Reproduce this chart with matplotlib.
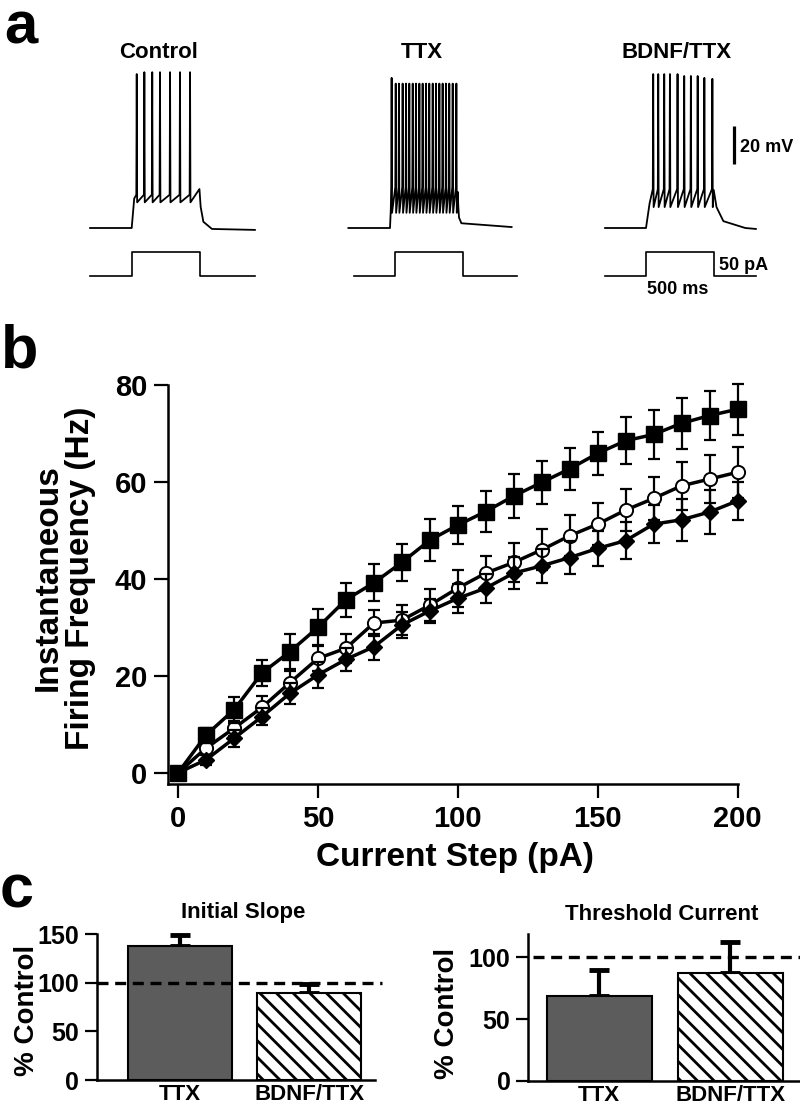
#!/usr/bin/env python3
"""Firing of cortical neurons after TTX / BDNF+TTX: traces, f-I curves and summary bars."""

import matplotlib
matplotlib.use("Agg")
import matplotlib.pyplot as plt

W, H = 800, 1111
DPI = 100

# ---- panel a: example recordings (time in ms from step onset, voltage in mV)
TRACE_NAMES = ["Control", "TTX", "BDNF/TTX"]
STEP_MS = 500
STEP_PA = 50
REST_MV = [-65, -65, -65]
END_MV = [-66, -64.5, -65.5]
AFTER_MV = [-65.5, -62.5, -65]
SPIKE_MS = [
    [37, 93, 151, 208, 282, 355, 429],
    [12, 42, 66, 93, 118, 142, 167, 191, 216, 240,
     265, 289, 314, 338, 363, 387, 412, 436, 461, 488],
    [53, 90, 134, 176, 232, 281, 330, 380, 429, 488],
]
PEAK_MV = [
    [16, 17, 17, 17, 17, 17, 17],
    [14, 11, 11, 11, 11, 11, 11, 11, 11, 11,
     11, 11, 11, 11, 11, 11, 11, 11, 11, 11],
    [16, 16, 16, 16, 16, 15, 15, 15, 14, 13.5],
]
TROUGH_MV = [-51.5, -57, -54]
THRESH_MV = [-47.5, -43.5, -44.5]
END_HUMP_MV = [-44.5, -46, -45]
DECAY_MS = [90, 25, 230]
V_START_MS = [-306, -306, -301]
V_END_MS = [906, 894, 808]
I_START_MS = [-306, -301, -301]
I_END_MS = [906, 895, 808]

# ---- panel b: instantaneous firing frequency vs current step
CURRENT_PA = [0, 10, 20, 30, 40, 50, 60, 70, 80, 90, 100,
              110, 120, 130, 140, 150, 160, 170, 180, 190, 200]
TTX_HZ = [0, 7.8, 13.0, 20.6, 25.0, 30.0, 35.7, 39.2, 43.4, 48.0, 51.1,
          53.9, 57.1, 59.9, 62.7, 65.9, 68.5, 69.8, 72.1, 73.7, 75.0]
TTX_SEM = [0, 1.5, 2.7, 2.7, 3.6, 3.7, 3.5, 3.8, 3.8, 4.4, 3.9,
           4.2, 4.5, 4.5, 4.4, 4.5, 4.8, 5.0, 5.2, 5.1, 5.3]
BDNF_HZ = [0, 5.1, 9.2, 13.5, 18.6, 23.6, 25.7, 30.9, 31.5, 34.6, 38.1,
           41.2, 43.4, 46.0, 48.9, 51.3, 54.2, 56.6, 59.2, 60.6, 62.0]
BDNF_SEM = [0, 1.0, 1.5, 2.4, 2.5, 2.5, 3.0, 2.7, 3.1, 3.3, 3.8,
            3.5, 4.0, 4.2, 4.2, 4.4, 4.4, 4.4, 4.9, 5.0, 5.3]
CTRL_HZ = [0, 2.7, 7.1, 11.6, 16.4, 20.2, 23.4, 26.0, 30.5, 33.4, 36.0,
           38.1, 41.2, 42.7, 44.4, 46.3, 47.9, 51.3, 52.2, 53.8, 56.1]
CTRL_SEM = [0, 1.0, 1.7, 1.7, 2.2, 2.6, 2.4, 2.7, 2.7, 2.5, 3.0,
            3.0, 3.3, 3.5, 3.4, 3.6, 3.8, 3.9, 4.3, 4.5, 3.9]

# ---- panel c: summary, % of control
GROUPS = ["TTX", "BDNF/TTX"]
SLOPE_PCT = [138, 89.5]
SLOPE_SEM = [11, 9]
THRESH_PCT = [69, 87.5]
THRESH_SEM = [20.5, 25]

BAR_GRAY = "#5c5c5c"

plt.rcParams.update({
    "font.family": ["Liberation Sans", "DejaVu Sans"],
    "font.weight": "bold",
    "hatch.linewidth": 2.0,
    "hatch.color": "black",
})

fig = plt.figure(figsize=(W / DPI, H / DPI), dpi=DPI, facecolor="white")


def _px_axes(x0, y0, x1, y1):
    return fig.add_axes([x0 / W, 1 - y1 / H, (x1 - x0) / W, (y1 - y0) / H])


def _label(x, y, s, size, **kw):
    fig.text(x / W, 1 - y / H, s, fontsize=size, fontweight="bold", **kw)


# ---------------- panel a
MS_PER_PX = 500 / 68
MV_PER_PX = 20 / 38
PA_PER_PX = 50 / 24.5
T_LIM = (-330, 930)
V_LIM = (-72, 24)
I_LIM = (-10, 60)
V_ORIGIN_X = [131.7, 390, 646]
I_ORIGIN_X = [131.7, 395, 646]
TITLE_X = [159, 421.7, 676.7]


def _trace_axes(origin_x, ref_y, ref_val, per_px, ylim):
    x0 = origin_x + T_LIM[0] / MS_PER_PX
    x1 = origin_x + T_LIM[1] / MS_PER_PX
    y0 = ref_y - (ylim[1] - ref_val) / per_px
    y1 = ref_y + (ref_val - ylim[0]) / per_px
    ax = _px_axes(x0, y0, x1, y1)
    ax.set_xlim(*T_LIM)
    ax.set_ylim(*ylim)
    ax.axis("off")
    return ax


def _voltage_trace(i):
    rest = REST_MV[i]
    trough, thresh = TROUGH_MV[i], THRESH_MV[i]
    t = [V_START_MS[i], 0.0, SPIKE_MS[i][0] * 0.5]
    v = [rest, rest, trough + 2]
    for ts, pk in zip(SPIKE_MS[i], PEAK_MV[i]):
        t += [ts - 3, ts, ts + 3]
        v += [thresh, pk, trough]
    hump = END_HUMP_MV[i]
    d = DECAY_MS[i]
    after = AFTER_MV[i]
    t += [STEP_MS - 2, STEP_MS + 0.08 * d, STEP_MS + 0.3 * d, STEP_MS + d, V_END_MS[i]]
    v += [hump, after + 0.55 * (hump - after), after + 0.18 * (hump - after),
          after, END_MV[i]]
    return t, v


for i, name in enumerate(TRACE_NAMES):
    axv = _trace_axes(V_ORIGIN_X[i], 228, REST_MV[0], MV_PER_PX, V_LIM)
    t, v = _voltage_trace(i)
    axv.plot(t, v, color="black", lw=1.3, clip_on=False)

    axi = _trace_axes(I_ORIGIN_X[i], 276, 0, PA_PER_PX, I_LIM)
    axi.plot([I_START_MS[i], 0, 0, STEP_MS, STEP_MS, I_END_MS[i]],
             [0, 0, STEP_PA, STEP_PA, 0, 0], color="black", lw=1.2, clip_on=False)

    _label(TITLE_X[i], 58, name, 16, ha="center", va="baseline")

    if i == 2:
        # 20 mV scale bar
        axv.plot([647, 647], [-31.5, -11.5], color="black", lw=2.3,
                 solid_capstyle="butt", clip_on=False)

_label(740, 148, "20 mV", 13, ha="left", va="center")
_label(719, 265, "50 pA", 13, ha="left", va="center")
_label(678, 289, "500 ms", 13, ha="center", va="center")

# ---------------- panel b
axb = _px_axes(167.7, 385, 737.5, 784)
axb.set_xlim(-3.7, 200)
axb.set_ylim(-2.3, 80)

eb_kw = dict(fmt="none", ecolor="black", elinewidth=1.6, capsize=4.5,
             capthick=1.6, clip_on=False)
axb.errorbar(CURRENT_PA, BDNF_HZ, yerr=BDNF_SEM, zorder=2, **eb_kw)
axb.plot(CURRENT_PA, BDNF_HZ, color="black", lw=2.5, marker="o", ms=9.5,
         mfc="white", mec="black", mew=1.4, zorder=3, clip_on=False)
axb.errorbar(CURRENT_PA, CTRL_HZ, yerr=CTRL_SEM, zorder=4, **eb_kw)
axb.plot(CURRENT_PA, CTRL_HZ, color="black", lw=2.5, marker="D", ms=8,
         mfc="black", mec="black", zorder=4, clip_on=False)
axb.errorbar(CURRENT_PA, TTX_HZ, yerr=TTX_SEM, zorder=5, **eb_kw)
axb.plot(CURRENT_PA, TTX_HZ, color="black", lw=2.5, marker="s", ms=11,
         mfc="black", mec="black", zorder=5, clip_on=False)

for side in ("top", "right"):
    axb.spines[side].set_visible(False)
for side in ("left", "bottom"):
    axb.spines[side].set_linewidth(1.8)
axb.set_xticks([0, 50, 100, 150, 200])
axb.set_yticks([0, 20, 40, 60, 80])
axb.tick_params(axis="x", direction="out", length=10, width=1.6, pad=5, labelsize=21)
axb.tick_params(axis="y", direction="out", length=9.8, width=1.6, pad=5, labelsize=21)
for lab in axb.get_xticklabels() + axb.get_yticklabels():
    lab.set_fontweight("bold")

_label(64, 578, "Instantaneous\nFiring Frequency (Hz)", 24, rotation=90,
       ha="center", va="center", multialignment="center", linespacing=1.05)
_label(455, 866, "Current Step (pA)", 24, ha="center", va="baseline")


# ---------------- panel c
def _bar_panel(box, xlim, ylim, yticks, values, sems, dash_x):
    ax = _px_axes(*box)
    pos = [0, 1]
    ax.plot(dash_x, [100, 100], color="black", lw=2.4, ls=(0, (3.3, 2.0)),
            zorder=4, clip_on=False)
    ax.bar(pos[0], values[0], width=0.8, color=BAR_GRAY, edgecolor="black",
           linewidth=1.5, zorder=2)
    ax.bar(pos[1], values[1], width=0.8, color="white", edgecolor="black",
           linewidth=1.5, hatch="\\\\", zorder=2)
    ax.errorbar(pos, values, yerr=[[0, 0], sems], fmt="none", ecolor="black",
                elinewidth=3, capsize=7, capthick=3.5, zorder=1, clip_on=False)
    ax.set_xlim(*xlim)
    ax.set_ylim(*ylim)
    for side in ("top", "right"):
        ax.spines[side].set_visible(False)
    for side in ("left", "bottom"):
        ax.spines[side].set_linewidth(1.8)
    ax.set_yticks(yticks)
    ax.set_xticks(pos, GROUPS)
    ax.tick_params(axis="y", direction="out", length=8.8, width=1.6, pad=4,
                   labelsize=18)
    ax.tick_params(axis="x", length=0, pad=3, labelsize=16)
    for lab in ax.get_xticklabels() + ax.get_yticklabels():
        lab.set_fontweight("bold")
    return ax


_bar_panel((96.7, 934, 375, 1080), (-0.641, 1.508), (0, 150),
           [0, 50, 100, 150], SLOPE_PCT, SLOPE_SEM, [-0.641, 1.56])
_bar_panel((528.3, 934, 800, 1081), (-0.541, 1.533), (0, 119),
           [0, 50, 100], THRESH_PCT, THRESH_SEM, [-0.505, 1.533])

_label(243.3, 918, "Initial Slope", 16, ha="center", va="baseline")
_label(661.7, 920, "Threshold Current", 16, ha="center", va="baseline")
_label(26.7, 1010, "% Control", 20, rotation=90, ha="center", va="center")
_label(446.7, 1013, "% Control", 20, rotation=90, ha="center", va="center")

# panel letters
_label(4, 44, "a", 43, ha="left", va="baseline")
_label(1, 367, "b", 44, ha="left", va="baseline")
_label(0, 908, "c", 44, ha="left", va="baseline")

fig.savefig("out.png", dpi=DPI, facecolor="white")
